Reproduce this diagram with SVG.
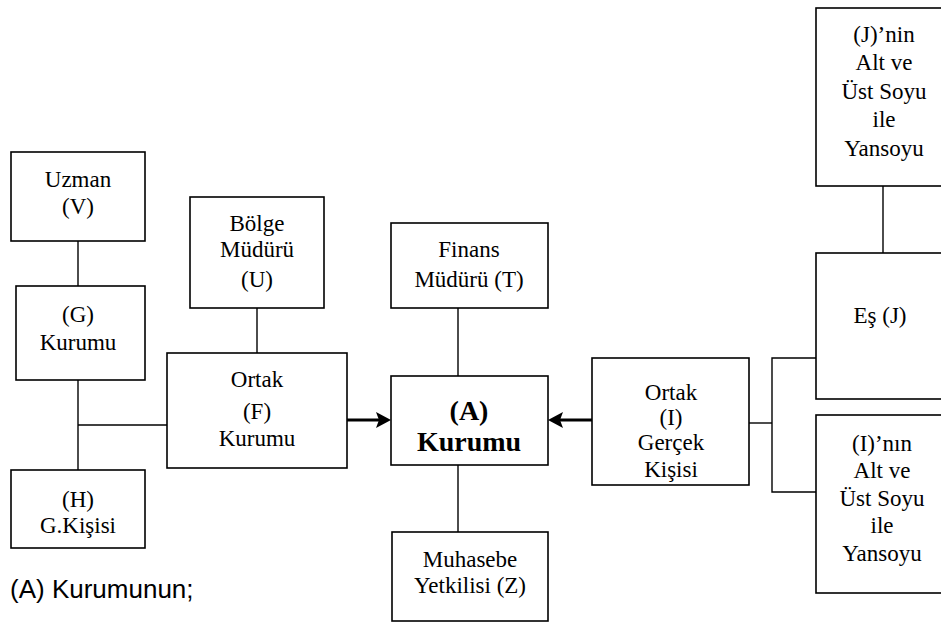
<svg xmlns="http://www.w3.org/2000/svg" width="941" height="622" viewBox="0 0 941 622">
<style>
  .box { fill: #ffffff; stroke: #000000; stroke-width: 1.6; }
  .t { font-family: "Liberation Serif", "Times New Roman", "DejaVu Serif", serif; font-size: 23px; fill: #000000; text-anchor: middle; }
  .tb { font-family: "Liberation Serif", "Times New Roman", "DejaVu Serif", serif; font-size: 28px; font-weight: bold; fill: #000000; text-anchor: middle; }
  .cap { font-family: "Liberation Sans", Arial, sans-serif; font-size: 26px; fill: #000000; }
  .ln { stroke: #000000; stroke-width: 1.4; fill: none; }
  .arr { stroke: #000000; stroke-width: 3; fill: none; }
  .head { fill: #000000; stroke: none; }
</style>
<rect width="941" height="622" fill="#ffffff"/>

<g id="connectors">
  <line class="ln" x1="78" y1="241" x2="78" y2="286"/>
  <line class="ln" x1="78" y1="380" x2="78" y2="470"/>
  <line class="ln" x1="78" y1="425" x2="167" y2="425"/>
  <line class="ln" x1="257" y1="308" x2="257" y2="353"/>
  <line class="ln" x1="458" y1="308" x2="458" y2="376"/>
  <line class="ln" x1="458" y1="465" x2="458" y2="532"/>
  <line class="arr" x1="347" y1="420" x2="380" y2="420"/>
  <polygon class="head" points="391,420 376,412 379,420 376,428"/>
  <line class="arr" x1="592" y1="420" x2="559" y2="420"/>
  <polygon class="head" points="548,420 563,412 560,420 563,428"/>
  <polyline class="ln" points="749,423 772,423"/>
  <polyline class="ln" points="816,358 772,358 772,492 816,492"/>
  <line class="ln" x1="883" y1="186" x2="883" y2="253"/>
</g>

<g id="node-uzman">
  <rect class="box" x="11" y="152" width="134" height="89"/>
  <text class="t" x="78" y="187">Uzman</text>
  <text class="t" x="78" y="214">(V)</text>
</g>
<g id="node-g">
  <rect class="box" x="16" y="286" width="129" height="94"/>
  <text class="t" x="78" y="322">(G)</text>
  <text class="t" x="78" y="350">Kurumu</text>
</g>
<g id="node-h">
  <rect class="box" x="11" y="470" width="134" height="78"/>
  <text class="t" x="78" y="507">(H)</text>
  <text class="t" x="78" y="533">G.Kişisi</text>
</g>
<g id="node-bolge">
  <rect class="box" x="190" y="197" width="134" height="111"/>
  <text class="t" x="257" y="231">Bölge</text>
  <text class="t" x="257" y="257">Müdürü</text>
  <text class="t" x="257" y="287">(U)</text>
</g>
<g id="node-f">
  <rect class="box" x="167" y="353" width="180" height="115"/>
  <text class="t" x="257" y="387">Ortak</text>
  <text class="t" x="257" y="419">(F)</text>
  <text class="t" x="257" y="446">Kurumu</text>
</g>
<g id="node-finans">
  <rect class="box" x="391" y="223" width="157" height="85"/>
  <text class="t" x="469" y="257">Finans</text>
  <text class="t" x="469" y="287">Müdürü (T)</text>
</g>
<g id="node-a">
  <rect class="box" x="391" y="376" width="157" height="89"/>
  <text class="tb" x="469" y="420">(A)</text>
  <text class="tb" x="469" y="451">Kurumu</text>
</g>
<g id="node-muhasebe">
  <rect class="box" x="392" y="532" width="156" height="89"/>
  <text class="t" x="470" y="567">Muhasebe</text>
  <text class="t" x="470" y="593">Yetkilisi (Z)</text>
</g>
<g id="node-i">
  <rect class="box" x="592" y="358" width="157" height="127"/>
  <text class="t" x="671" y="400">Ortak</text>
  <text class="t" x="671" y="425">(I)</text>
  <text class="t" x="671" y="450">Gerçek</text>
  <text class="t" x="671" y="477">Kişisi</text>
</g>
<g id="node-jnin">
  <rect class="box" x="816" y="8" width="130" height="178"/>
  <text class="t" x="884" y="42">(J)’nin</text>
  <text class="t" x="884" y="70">Alt ve</text>
  <text class="t" x="884" y="99">Üst Soyu</text>
  <text class="t" x="884" y="127">ile</text>
  <text class="t" x="884" y="156">Yansoyu</text>
</g>
<g id="node-j">
  <rect class="box" x="816" y="253" width="130" height="146"/>
  <text class="t" x="880" y="323">Eş (J)</text>
</g>
<g id="node-inin">
  <rect class="box" x="816" y="415" width="130" height="178"/>
  <text class="t" x="882" y="451">(I)’nın</text>
  <text class="t" x="882" y="478">Alt ve</text>
  <text class="t" x="882" y="506">Üst Soyu</text>
  <text class="t" x="882" y="533">ile</text>
  <text class="t" x="882" y="561">Yansoyu</text>
</g>

<text class="cap" x="10" y="598">(A) Kurumunun;</text>
</svg>
